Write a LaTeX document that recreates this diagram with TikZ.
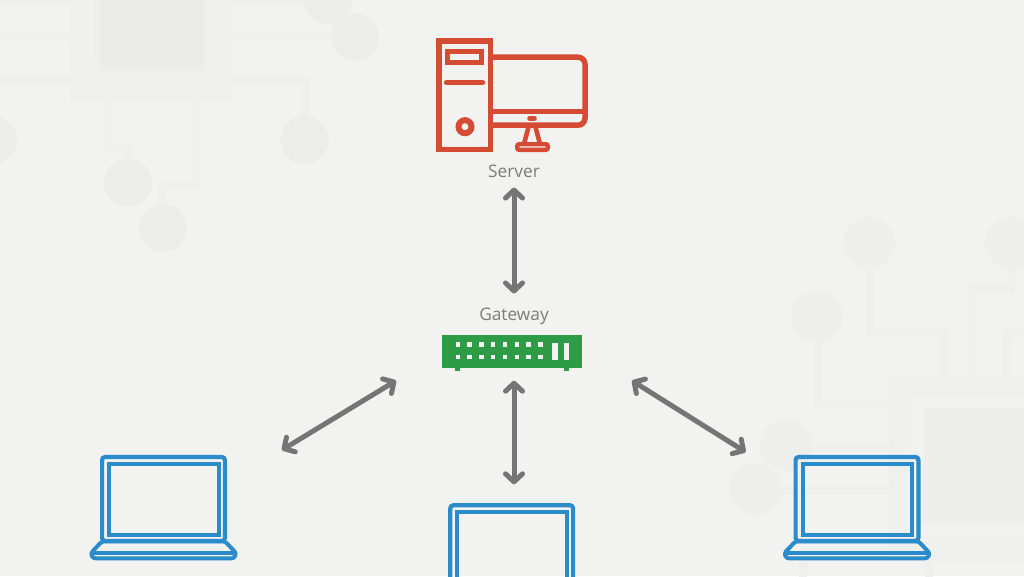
\documentclass[tikz,border=0pt]{standalone}
\usepackage{fontspec}
\setmainfont{Open Sans}
\usepackage{xcolor}
\usetikzlibrary{arrows.meta,calc}
\definecolor{paper}{HTML}{F2F2F1}
\definecolor{trace}{HTML}{EFEFEE}
\definecolor{padgray}{HTML}{ECECEB}
\definecolor{padlight}{HTML}{EEEEED}
\definecolor{ringgray}{HTML}{F1F1F0}
\definecolor{coregray}{HTML}{EBEBEA}
\definecolor{corelight}{HTML}{EDEDEC}
\definecolor{srvred}{HTML}{D64B33}
\definecolor{gatgreen}{HTML}{2E9C47}
\definecolor{lapblue}{HTML}{2A8CCB}
\definecolor{arrgray}{HTML}{757575}
\definecolor{txtgray}{HTML}{7C7C7C}

\begin{document}
\begin{tikzpicture}[
    x=1pt, y=-1pt,
    lbl/.style={text=txtgray, font=\fontsize{17.3}{20}\selectfont, inner sep=0pt},
    arr/.style={{Straight Barb[length=8pt,width=17pt,line width=5pt,round]}-{Straight Barb[length=8pt,width=17pt,line width=5pt,round]},
                arrgray, line width=5pt},
    wire/.style={trace, line width=8pt},
    pad/.style={padgray, draw=none},
    redline/.style={srvred, line width=5.5pt},
    blueline/.style={lapblue, line width=4pt, rounded corners=2.5pt},
    lid/.style={draw=lapblue, line width=4.2pt, rounded corners=3pt, minimum width=122.8pt,
                minimum height=84pt, inner sep=0pt, outer sep=0pt},
    dot/.style={fill=paper, draw=none},
]
\useasboundingbox (0,0) rectangle (1024,576);
\clip (0,0) rectangle (1024,576);
\fill[paper] (0,0) rectangle (1024,576);

% ---------------- circuit pattern, top left ----------------
\draw[wire] (0,0) -- (70,0);
\draw[wire] (0,37) -- (70,37);
\draw[wire] (0,79.5) -- (70,79.5);
\draw[wire] (233,0) -- (320,0);
\draw[wire] (233,37) -- (340,37);
\draw[wire] (233,79.5) -- (304.5,79.5) -- (304.5,125);
\draw[wire] (108,100) -- (108,148) -- (128,148) -- (128,165);
\draw[wire] (196,100) -- (196,185) -- (162,185) -- (162,210);
\fill[trace, rounded corners=3pt] (70,-10) rectangle (233,100);
\fill[coregray, rounded corners=3pt] (100,-10) rectangle (204,70);
\draw[ringgray, line width=5pt] (90,0) -- (90,57);
\foreach \cx/\cy in {328/0, 355/37, 304.5/140, -7/140, 128/182.7, 163/228}
    \fill[pad] (\cx,\cy) circle (24);

% ---------------- circuit pattern, bottom right ----------------
\draw[wire] (870,243) -- (870,333) -- (944,333) -- (944,377);
\draw[wire] (818,317) -- (818,405) -- (889,405);
\draw[wire] (1011,243) -- (1011,288) -- (972,288) -- (972,377);
\draw[wire] (1030,333) -- (1007,333) -- (1007,377);
\draw[wire] (786,448) -- (889,448);
\draw[wire] (756,490) -- (889,490);
\draw[wire] (803,560) -- (803,580);
\draw[wire] (929,560) -- (929,580);
\fill[trace, rounded corners=4pt] (889,377) rectangle (1040,562);
\fill[ringgray] (906,397) rectangle (1040,543);
\fill[corelight, rounded corners=3pt] (924,408) rectangle (1040,523);
\foreach \cx/\cy in {869/243, 817/317, 1011/243, 786/445, 756/489}
    \fill[padlight] (\cx,\cy) circle (26);

% ---------------- server ----------------
\node[draw=srvred, line width=5.5pt, minimum width=51.5pt, minimum height=108.5pt, inner sep=0pt, outer sep=0pt] (tower) at (464.5,95) {};
\draw[redline, line width=5pt] (447.5,51.5) rectangle (481.5,62.5);
\draw[redline, line cap=round] (446.5,82.5) -- (482.5,82.5);
\draw[srvred, line width=6pt] (465,126.7) circle (6.5);
\draw[redline, rounded corners=7pt] (tower.east |- 0,57.2) -- (585,57.2) -- (585,125.2) -- (tower.east |- 0,125.2);
\draw[redline] (tower.east |- 0,111.5) -- (585,111.5);
\draw[srvred, line width=4.6pt, line cap=round] (529.5,118.5) -- (534.5,118.5);
\draw[redline, line width=4.6pt] (528.5,127) -- (524,144);
\draw[redline, line width=4.6pt] (535.5,127) -- (540,144);
\draw[srvred, line width=4.4pt, rounded corners=2pt] (517.2,144.2) rectangle (547.8,149.8);
\node[lbl] (server) at (514,171) {Server};

% ---------------- gateway ----------------
\node[lbl] (gatelabel) at (514,316) {Gateway};
\node[fill=gatgreen, minimum width=140pt, minimum height=33pt, inner sep=0pt, outer sep=0pt] (gatebox) at (512,351.2) {};
\fill[gatgreen] (455,367) rectangle (460,371);
\fill[gatgreen] (564,367) rectangle (569,371);
\foreach \i in {0,...,7} {
    \fill[dot] ({457.7+11.8*\i-2.2},342.1) rectangle ++(4.4,4.4);
    \fill[dot] ({457.7+11.8*\i-2.2},354.8) rectangle ++(4.4,4.4);
}
\fill[dot] (552.3,342.7) rectangle (557.7,360);
\fill[dot] (564.3,342.7) rectangle (569,360);

% ---------------- laptops ----------------
\foreach \lapname/\dx in {lapleft/0, lapright/693.5} {
    \begin{scope}[xshift=\dx]
    \node[lid] (\lapname) at (163.5,499) {};
    \draw[lapblue, line width=4pt] (109.3,463.5) rectangle (218.7,535);
    \draw[blueline] (102,541.3) -- (225,541.3) -- (236.3,553.3) -- (234,558.3) -- (93,558.3) -- (90.7,553.3) -- cycle;
    \draw[lapblue, line width=3.4pt] (92,552.8) -- (235,552.8);
    \end{scope}
}
% tablet runs off the lower edge
\node[lid, minimum height=120pt, anchor=north] (tablet) at (511.7,505.3) {};
\node[draw=lapblue, line width=4.2pt, minimum width=110pt, minimum height=120pt, inner sep=0pt, outer sep=0pt, anchor=north] (screen) at (511.7,512) {};

% ---------------- links ----------------
\draw[arr] ([yshift=-10pt]server.south) -- ([yshift=14pt]gatelabel.north);
\draw[arr] ([xshift=2pt,yshift=-13pt]gatebox.south) -- ([xshift=2.3pt,yshift=21pt]tablet.north);
\draw[arr] ([xshift=-46pt,yshift=-13pt]gatebox.south west) -- ([xshift=57pt,yshift=7pt]lapleft.north east);
\draw[arr] ([xshift=50pt,yshift=-13pt]gatebox.south east) -- ([xshift=-50pt,yshift=5pt]lapright.north west);
\end{tikzpicture}
\end{document}
